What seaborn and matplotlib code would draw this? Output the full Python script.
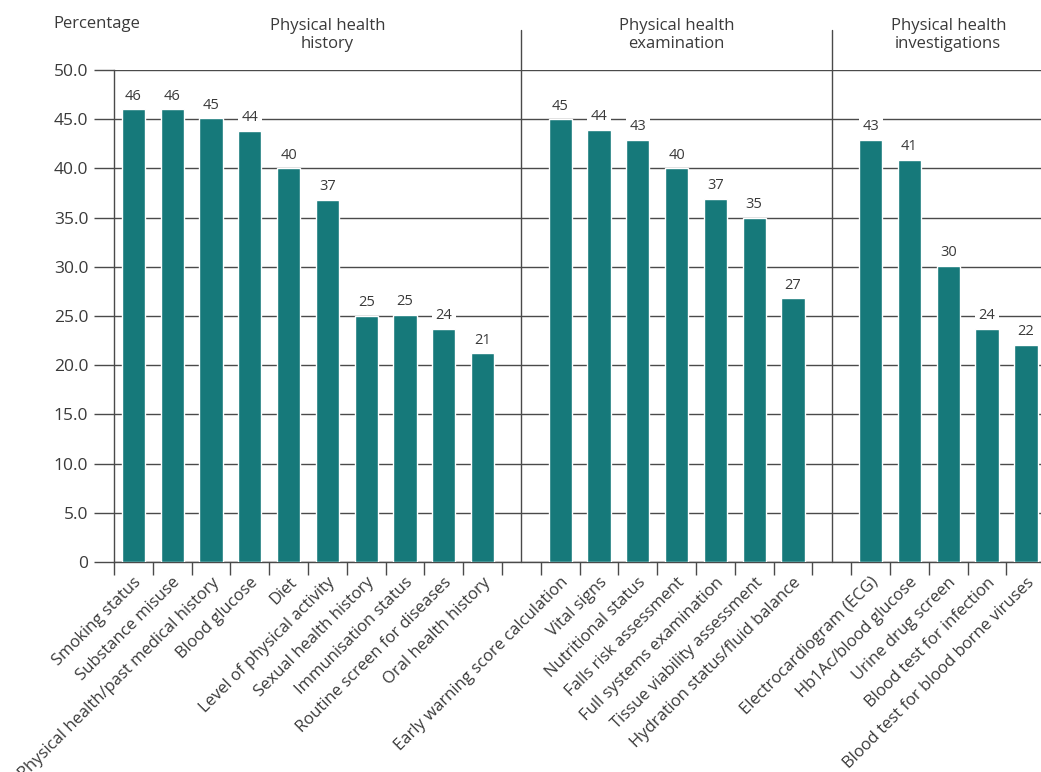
import matplotlib
matplotlib.use("Agg")
import matplotlib.pyplot as plt
import matplotlib.transforms as mtransforms
import pandas as pd
import seaborn as sns

# ---- data -------------------------------------------------------------
history_items = [
    "Smoking status", "Substance misuse", "Physical health/past medical history",
    "Blood glucose", "Diet", "Level of physical activity", "Sexual health history",
    "Immunisation status", "Routine screen for diseases", "Oral health history",
]
history_values = [46.0, 46.0, 45.1, 43.8, 40.0, 36.8, 25.0, 25.1, 23.7, 21.2]

exam_items = [
    "Early warning score calculation", "Vital signs", "Nutritional status",
    "Falls risk assessment", "Full systems examination",
    "Tissue viability assessment", "Hydration status/fluid balance",
]
exam_values = [45.0, 43.9, 42.9, 40.0, 36.9, 35.0, 26.8]

invest_items = [
    "Electrocardiogram (ECG)", "Hb1Ac/blood glucose", "Urine drug screen",
    "Blood test for infection", "Blood test for blood borne viruses",
]
invest_values = [42.9, 40.9, 30.1, 23.7, 22.1]

group_titles = ["Physical health\nhistory", "Physical health\nexamination",
                "Physical health\ninvestigations"]
y_ticks = [0, 5, 10, 15, 20, 25, 30, 35, 40, 45, 50]
y_tick_labels = ["0", "5.0", "10.0", "15.0", "20.0", "25.0", "30.0",
                 "35.0", "40.0", "45.0", "50.0"]
y_label = "Percentage"

# ---- styling ----------------------------------------------------------
TEAL = "#16797a"
LINE = "#4a4a4a"
TEXT = "#3a3a3a"

sns.set_style("white")
plt.rcParams["font.family"] = ["Open Sans", "DejaVu Sans"]
plt.rcParams["text.color"] = TEXT

# one empty slot separates neighbouring groups
gap1, gap2 = " ", "  "
order = history_items + [gap1] + exam_items + [gap2] + invest_items
df = pd.DataFrame({
    "item": history_items + exam_items + invest_items,
    "pct": history_values + exam_values + invest_values,
})

W, H = 1041, 772
fig = plt.figure(figsize=(W / 100, H / 100), dpi=100)
ax = fig.add_axes([114 / W, 1 - 562 / H, 1 - 114 / W, (562 - 70) / H])

sns.barplot(data=df, x="item", y="pct", order=order, color=TEAL,
            saturation=1, width=0.6, errorbar=None, ax=ax, zorder=3)

ax.set_xlim(-0.5, 23.39)
ax.set_ylim(0, 50)
ax.set_xlabel("")
ax.set_ylabel("")

# y axis: long outward ticks that continue the gridlines
ax.set_yticks(y_ticks, y_tick_labels)
ax.yaxis.grid(True, color=LINE, linewidth=1.0, zorder=0)
ax.set_axisbelow(True)
ax.tick_params(axis="y", which="major", length=14.5, width=1.0, color=LINE,
               pad=4, labelsize=12.5, labelcolor=TEXT, left=True)

for side in ("top", "right"):
    ax.spines[side].set_visible(False)
for side in ("left", "bottom"):
    ax.spines[side].set_color(LINE)
    ax.spines[side].set_linewidth(1.0)

# x axis: labels under bars, short ticks at slot boundaries
positions = [order.index(it) for it in df["item"]]
ax.set_xticks(positions, list(df["item"]), rotation=45, ha="right",
              rotation_mode="anchor")
ax.tick_params(axis="x", which="major", length=0, pad=9, labelsize=12,
               labelcolor=TEXT)
ax.set_xticks([k - 0.5 for k in range(len(order))], minor=True)
ax.tick_params(axis="x", which="minor", length=9, width=1.0, color=LINE,
               bottom=True)

# value labels on white boxes above bars
for pos, val in zip(positions, df["pct"]):
    ax.annotate(f"{val:.0f}", xy=(pos, val), xytext=(0, 4),
                textcoords="offset points", ha="center", va="bottom",
                fontsize=10.5, color=TEXT, zorder=5,
                bbox=dict(boxstyle="square,pad=0.25", fc="white", ec="none"))

# group dividers reaching above the plot
for gx in (order.index(gap1), order.index(gap2)):
    ax.axvline(gx, ymin=0, ymax=(562 - 30) / (562 - 70), color=LINE,
               linewidth=1.0, clip_on=False, zorder=1)

# headers
blend = mtransforms.blended_transform_factory(ax.transData, fig.transFigure)
title_x = [5, 14, 21]
for tx, title in zip(title_x, group_titles):
    ax.text(tx, 1 - 35 / H, title, transform=blend, ha="center",
            va="center", fontsize=12, linespacing=1.25, color=TEXT)
fig.text(53 / W, 1 - 24 / H, y_label, ha="left", va="center",
         fontsize=12, color=TEXT)

fig.savefig("out.png", dpi=100)
